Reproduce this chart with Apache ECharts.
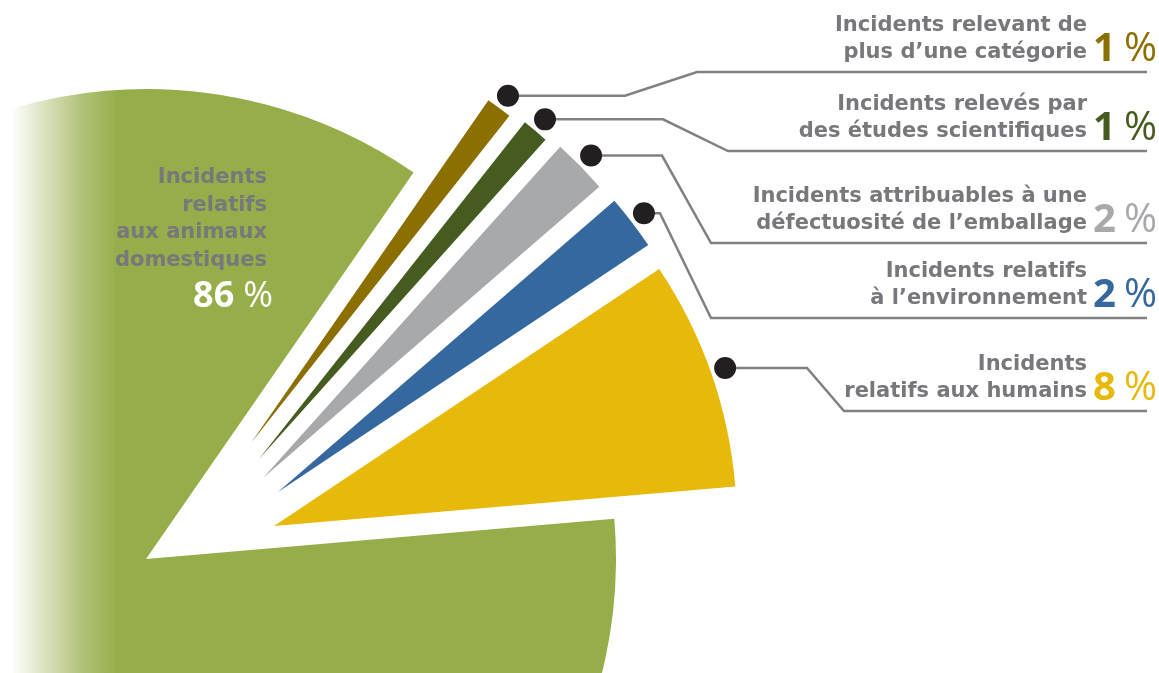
<!DOCTYPE html>
<html>
<head>
<meta charset="utf-8">
<script src="https://cdn.jsdelivr.net/npm/echarts@6/dist/echarts.min.js"></script>
<style>
html, body { margin: 0; padding: 0; background: #fff; }
#main { width: 1159px; height: 673px; }
</style>
</head>
<body>
<div id="main"></div>
<script>
// data
var categories = [
  'Incidents relevant de\nplus d\u2019une catégorie',
  'Incidents relevés par\ndes études scientifiques',
  'Incidents attribuables à une\ndéfectuosité de l\u2019emballage',
  'Incidents relatifs\nà l\u2019environnement',
  'Incidents\nrelatifs aux humains',
  'Incidents\nrelatifs\naux animaux\ndomestiques'
];
var shares = [1, 1, 2, 2, 8, 86];
var sliceColors = ['#8b6f00', '#465b1f', '#a7a9ac', '#35689e', '#e6b90b', '#96ad4a'];
var pctColors = ['#8b6f00', '#465b1f', '#a7a9ac', '#35689e', '#e6b90b', '#ffffff'];

// exploded layout: each slice has its own apex and radius (px)
var centers = [[251, 443], [259, 459], [263, 478], [278, 492], [274, 526], [146, 559]];
var radii = [417, 429, 445, 445, 463, 470];
var startAngle = 55.3;
// leader lines: x of first bend, x where underline starts, y of underline
var leaders = [
  { bend: 625, start: 697, y: 72 },
  { bend: 663, start: 728, y: 151 },
  { bend: 662, start: 711, y: 243 },
  { bend: 660, start: 711, y: 318 },
  { bend: 807, start: 844, y: 411 }
];

var textGrey = '#77787b';
var font = '"DejaVu Sans", sans-serif';
var pctFont = '"Open Sans", sans-serif';

var chart = echarts.init(document.getElementById('main'));

var series = shares.map(function (v, i) {
  return {
    type: 'pie',
    center: centers[i],
    radius: radii[i],
    startAngle: startAngle,
    clockwise: true,
    avoidLabelOverlap: false,
    silent: true,
    animation: false,
    label: { show: false },
    labelLine: { show: false },
    data: shares.map(function (s, j) {
      return {
        name: categories[j],
        value: s,
        itemStyle: { color: j === i ? sliceColors[i] : 'rgba(0,0,0,0)' }
      };
    })
  };
});

chart.setOption({
  backgroundColor: '#ffffff',
  series: series
});

var model = chart.getModel();
var graphics = [];

// white fade on the left edge
graphics.push({
  type: 'rect', z: 100, left: 0, top: 0,
  shape: { width: 118, height: 673 },
  style: {
    fill: new echarts.graphic.LinearGradient(0, 0, 1, 0, [
      { offset: 0, color: 'rgba(255,255,255,1)' },
      { offset: 0.1, color: 'rgba(255,255,255,1)' },
      { offset: 0.4, color: 'rgba(255,255,255,0.62)' },
      { offset: 0.7, color: 'rgba(255,255,255,0.25)' },
      { offset: 1, color: 'rgba(255,255,255,0)' }
    ])
  }
});

function pctText(v, size, color, gap) {
  return {
    text: '{d|' + v + '}{s|}{p|%}',
    rich: {
      d: { fill: color, font: 'bold ' + size + 'px ' + pctFont },
      s: { width: gap },
      p: { fill: color, font: size + 'px ' + pctFont }
    }
  };
}

leaders.forEach(function (L, i) {
  var lay = model.getSeriesByIndex(i).getData().getItemLayout(i);
  var mid = (lay.startAngle + lay.endAngle) / 2;
  var dx = lay.cx + (lay.r + 15) * Math.cos(mid);
  var dy = lay.cy + (lay.r + 15) * Math.sin(mid);
  graphics.push({
    type: 'polyline', z: 100,
    shape: { points: [[dx, dy], [L.bend, dy], [L.start, L.y], [1147, L.y]] },
    style: { stroke: '#808184', lineWidth: 2.5, fill: null }
  });
  graphics.push({
    type: 'circle', z: 101,
    shape: { cx: dx, cy: dy, r: 11 },
    style: { fill: '#231f20' }
  });
  graphics.push({
    type: 'text', z: 101, x: 1087, y: L.y - 6,
    style: {
      text: categories[i], fill: textGrey,
      font: 'bold 21px ' + font, lineHeight: 27,
      align: 'right', verticalAlign: 'bottom'
    }
  });
  var pt = pctText(shares[i], 40, pctColors[i], 8);
  pt.align = 'right';
  pt.verticalAlign = 'bottom';
  graphics.push({ type: 'text', z: 101, x: 1157, y: L.y - 2, style: pt });
});

// big slice label
graphics.push({
  type: 'text', z: 101, x: 267, y: 219,
  style: {
    text: categories[5], fill: textGrey,
    font: 'bold 21px ' + font, lineHeight: 27.7,
    align: 'right', verticalAlign: 'middle'
  }
});
var bigPct = pctText(shares[5], 36, pctColors[5], 9);
bigPct.align = 'right';
bigPct.verticalAlign = 'middle';
graphics.push({ type: 'text', z: 101, x: 273, y: 297, style: bigPct });

chart.setOption({ graphic: graphics });
</script>
</body>
</html>
